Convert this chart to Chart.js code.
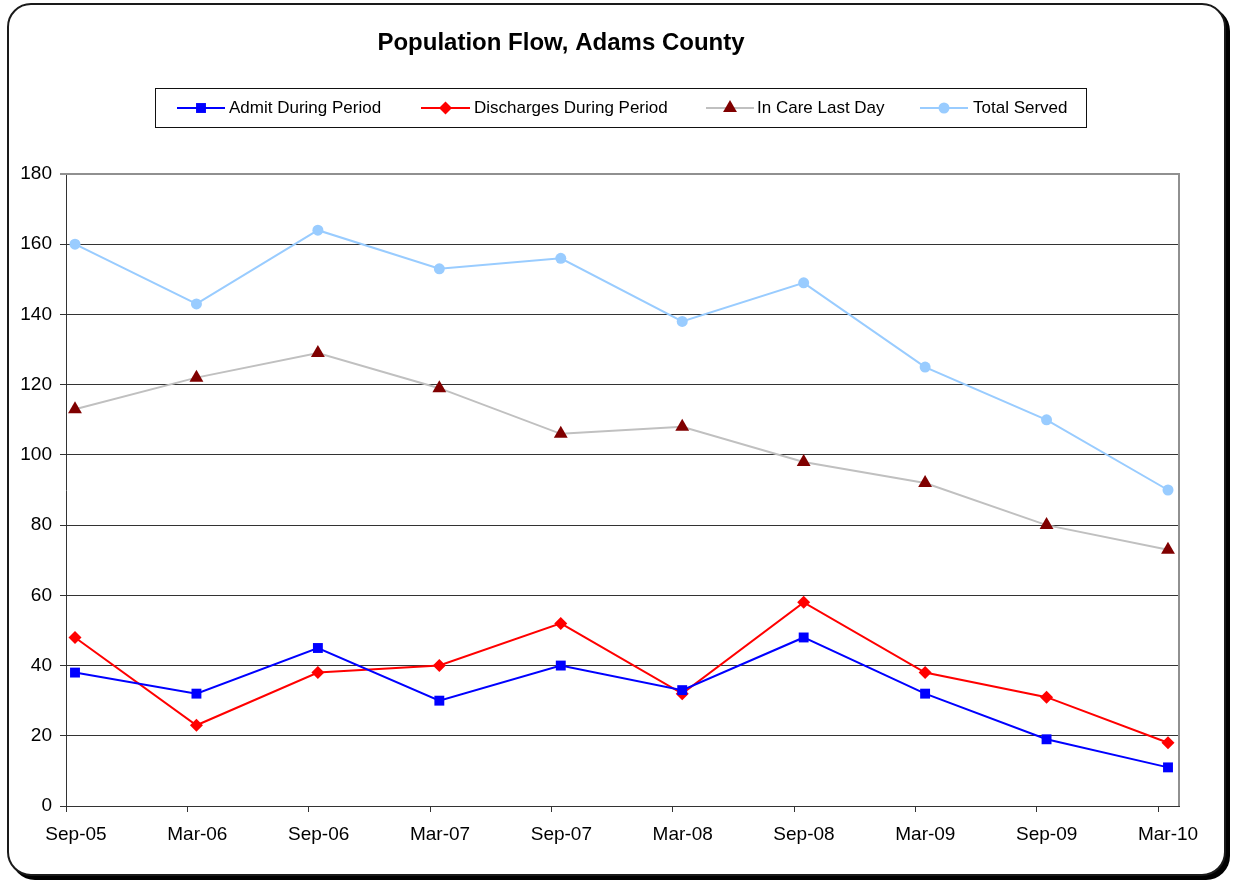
<!DOCTYPE html>
<html>
<head>
<meta charset="utf-8">
<title>Population Flow, Adams County</title>
<script src="https://cdn.jsdelivr.net/npm/chart.js@4/dist/chart.umd.min.js"></script>
<style>
  html, body { margin: 0; padding: 0; background: #fff; }
  body { width: 1235px; height: 882px; position: relative; overflow: hidden; }
  #frame {
    position: absolute; left: 7px; top: 3px; width: 1219px; height: 873px;
    box-sizing: border-box; border: 2px solid #1a1a1a; border-radius: 24px;
    box-shadow: 4px 4px 0 0 #000; background: #fff;
  }
  #wrap { position: absolute; left: 0; top: 0; width: 1235px; height: 882px; }
</style>
</head>
<body>
<div id="frame"></div>
<div id="wrap"><canvas id="c" width="1235" height="882"></canvas></div>
<script>
// Chart text
const chartTitle = 'Population Flow, Adams County';

// Half-year reporting periods
const categories = ['Sep-05', 'Mar-06', 'Sep-06', 'Mar-07', 'Sep-07', 'Mar-08', 'Sep-08', 'Mar-09', 'Sep-09', 'Mar-10'];

// Series values per period
const admitDuringPeriod      = [38, 32, 45, 30, 40, 33, 48, 32, 19, 11];
const dischargesDuringPeriod = [48, 23, 38, 40, 52, 32, 58, 38, 31, 18];
const inCareLastDay          = [113, 122, 129, 119, 106, 108, 98, 92, 80, 73];
const totalServed            = [160, 143, 164, 153, 156, 138, 149, 125, 110, 90];

// Value axis ticks
const yTicks = [0, 20, 40, 60, 80, 100, 120, 140, 160, 180];

const FONT = "'Liberation Sans', Arial, Helvetica, sans-serif";

function toPoints(values) {
  return values.map((v, i) => ({ x: i, y: v }));
}

const datasets = [
  {
    label: 'Admit During Period',
    data: toPoints(admitDuringPeriod),
    borderColor: '#0000FF', backgroundColor: '#0000FF',
    pointStyle: 'rect', pointRadius: 7, pointBorderWidth: 0,
    pointBackgroundColor: '#0000FF'
  },
  {
    label: 'Discharges During Period',
    data: toPoints(dischargesDuringPeriod),
    borderColor: '#FF0000', backgroundColor: '#FF0000',
    pointStyle: 'rectRot', pointRadius: 6.5, pointBorderWidth: 0,
    pointBackgroundColor: '#FF0000'
  },
  {
    label: 'In Care Last Day',
    data: toPoints(inCareLastDay),
    borderColor: '#C0C0C0', backgroundColor: '#800000',
    pointStyle: 'triangle', pointRadius: 8, pointBorderWidth: 0,
    pointBackgroundColor: '#800000'
  },
  {
    label: 'Total Served',
    data: toPoints(totalServed),
    borderColor: '#99CCFF', backgroundColor: '#99CCFF',
    pointStyle: 'circle', pointRadius: 5.5, pointBorderWidth: 0,
    pointBackgroundColor: '#99CCFF'
  }
].map(d => Object.assign({
  xAxisID: 'xd', yAxisID: 'y', borderWidth: 2, tension: 0, fill: false, clip: false
}, d));

// Draws a legend marker in the same shape as the series points
function drawMarker(ctx, style, r, x, y, color) {
  ctx.save();
  ctx.fillStyle = color;
  ctx.beginPath();
  if (style === 'rect') {
    const s = Math.SQRT1_2 * r;
    ctx.rect(x - s, y - s, 2 * s, 2 * s);
  } else if (style === 'rectRot') {
    ctx.moveTo(x - r, y); ctx.lineTo(x, y - r); ctx.lineTo(x + r, y); ctx.lineTo(x, y + r);
    ctx.closePath();
  } else if (style === 'triangle') {
    const a = 2 * Math.PI / 3;
    ctx.moveTo(x, y - r);
    ctx.lineTo(x + Math.sin(a) * r, y - Math.cos(a) * r);
    ctx.lineTo(x + Math.sin(2 * a) * r, y - Math.cos(2 * a) * r);
    ctx.closePath();
  } else {
    ctx.arc(x, y, r, 0, Math.PI * 2);
  }
  ctx.fill();
  ctx.restore();
}

// Title and boxed legend, drawn on the chart canvas
const headerPlugin = {
  id: 'header',
  afterDraw(chart) {
    const ctx = chart.ctx;
    ctx.save();
    ctx.fillStyle = '#000';
    ctx.font = 'bold 24px ' + FONT;
    ctx.textAlign = 'center';
    ctx.textBaseline = 'middle';
    ctx.fillText(chartTitle, 561, 43);

    // legend box
    ctx.strokeStyle = '#111';
    ctx.lineWidth = 1;
    ctx.strokeRect(155.5, 88.5, 931, 39);

    const slots = [
      { x0: 177, x1: 225, tx: 229 },
      { x0: 421, x1: 470, tx: 474 },
      { x0: 706, x1: 754, tx: 757 },
      { x0: 920, x1: 968, tx: 973 }
    ];
    const cy = 108;
    ctx.font = '17px ' + FONT;
    ctx.textAlign = 'left';
    chart.data.datasets.forEach((ds, i) => {
      const s = slots[i];
      ctx.strokeStyle = ds.borderColor;
      ctx.lineWidth = 2;
      ctx.beginPath();
      ctx.moveTo(s.x0, cy); ctx.lineTo(s.x1, cy);
      ctx.stroke();
      drawMarker(ctx, ds.pointStyle, ds.pointRadius, (s.x0 + s.x1) / 2, cy, ds.pointBackgroundColor);
      ctx.fillStyle = '#000';
      ctx.fillText(ds.label, s.tx, cy);
    });
    ctx.restore();
  }
};

// Grey plot-area edge on the top and right sides
const plotEdgePlugin = {
  id: 'plotEdge',
  beforeDatasetsDraw(chart) {
    const { ctx, chartArea: a } = chart;
    ctx.save();
    ctx.strokeStyle = '#909090';
    ctx.lineWidth = 2;
    ctx.beginPath();
    ctx.moveTo(a.left, a.top);
    ctx.lineTo(a.right, a.top);
    ctx.lineTo(a.right, a.bottom);
    ctx.stroke();
    ctx.restore();
  }
};

new Chart(document.getElementById('c'), {
  type: 'line',
  data: { datasets },
  options: {
    responsive: false,
    devicePixelRatio: 1,
    animation: false,
    events: [],
    layout: { padding: { top: 174, left: 0, right: 56, bottom: 0 } },
    plugins: {
      legend: { display: false },
      title: { display: false },
      tooltip: { enabled: false }
    },
    scales: {
      // data positions (series index)
      xd: {
        type: 'linear', display: false, min: -0.0741, max: 9.0906
      },
      // visible period axis
      x: {
        type: 'linear', position: 'bottom', min: 0, max: 9.173,
        afterBuildTicks(scale) {
          scale.ticks = categories.map((_, i) => ({ value: i }));
        },
        afterFit(scale) { scale.height = 76; },
        ticks: {
          autoSkip: false, maxRotation: 0, minRotation: 0, padding: 11, labelOffset: 10,
          color: '#000', font: { family: FONT, size: 19 },
          callback: (v) => categories[v]
        },
        grid: { drawOnChartArea: false, drawTicks: true, tickLength: 6, color: '#333', lineWidth: 1 },
        border: { display: true, color: '#333', width: 1 }
      },
      y: {
        type: 'linear', position: 'left', min: 0, max: 180,
        afterBuildTicks(scale) {
          scale.ticks = yTicks.map(v => ({ value: v }));
        },
        afterFit(scale) { scale.width = 66; },
        ticks: {
          padding: 8, color: '#000', font: { family: FONT, size: 19 }
        },
        grid: {
          drawTicks: true, tickLength: 6,
          color: (c) => (c.tick && c.tick.value === 180 ? '#909090' : '#333'),
          lineWidth: (c) => (c.tick && c.tick.value === 180 ? 2 : 1)
        },
        border: { display: true, color: '#333', width: 1 }
      }
    }
  },
  plugins: [plotEdgePlugin, headerPlugin]
});
</script>
</body>
</html>
